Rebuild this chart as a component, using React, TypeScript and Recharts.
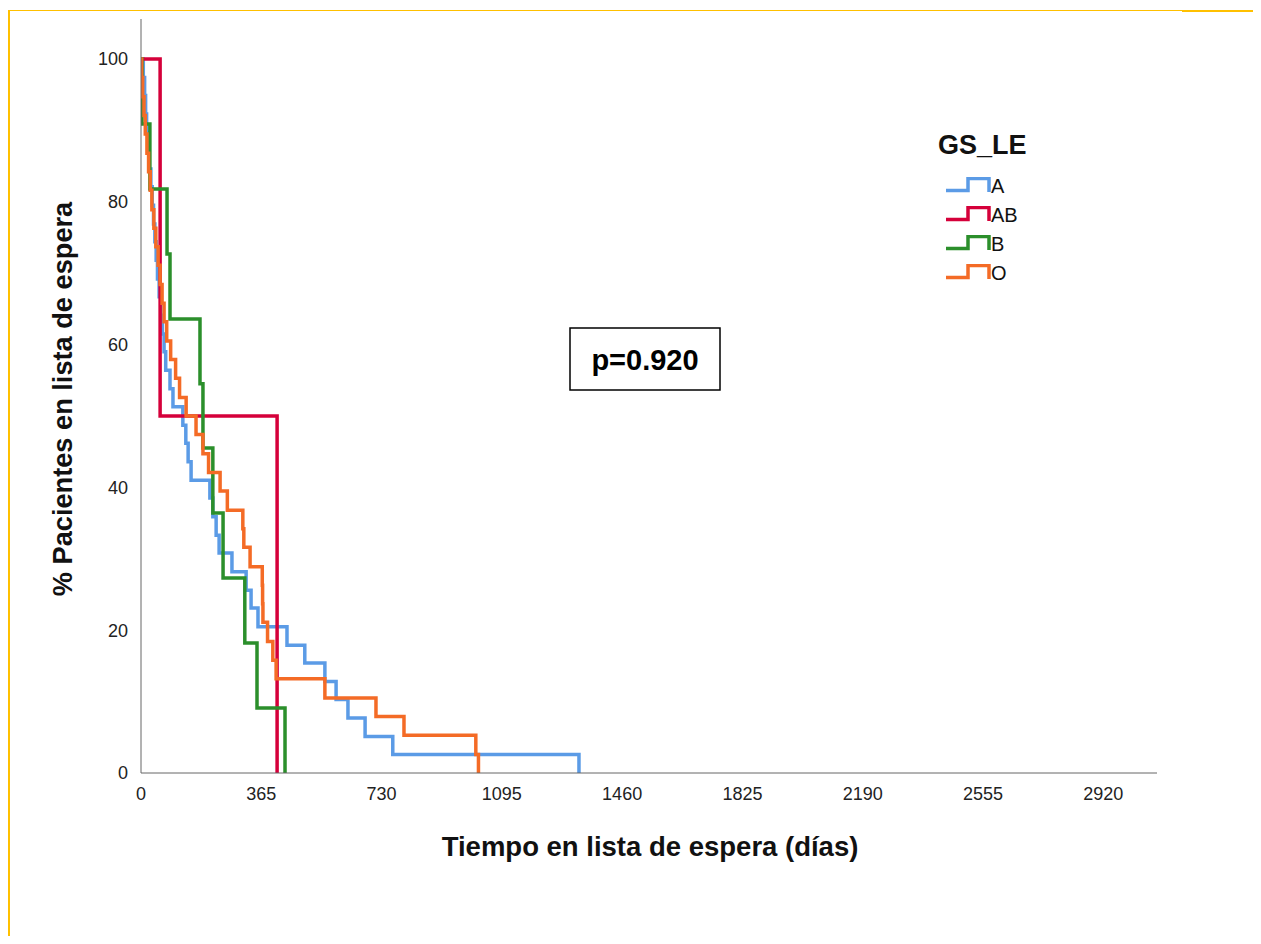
import React from 'react'
import { LineChart, Line, XAxis, YAxis, Legend } from 'recharts'

// Kaplan-Meier steps per blood group (day of event, % still waiting)
const daysA = [0, 7, 11, 14, 17, 21, 25, 30, 34, 38, 42, 46, 50, 55, 60, 65, 70, 75, 88, 97, 127, 136, 143, 152, 209, 218, 228, 237, 276, 319, 334, 355, 443, 497, 558, 592, 628, 680, 764, 1329]
const pctA = [100, 97.4, 94.9, 92.3, 89.7, 87.2, 84.6, 82.1, 79.5, 76.9, 74.4, 71.8, 69.2, 66.7, 64.1, 61.5, 59.0, 56.4, 53.8, 51.3, 48.7, 46.2, 43.6, 41.0, 38.5, 35.9, 33.3, 30.8, 28.2, 25.6, 23.1, 20.5, 17.9, 15.4, 12.8, 10.3, 7.7, 5.1, 2.6, 0]

const daysAB = [0, 58, 413]
const pctAB = [100, 50, 0]

const daysB = [0, 3, 27, 79, 88, 179, 188, 218, 249, 315, 352, 437]
const pctB = [100, 90.9, 81.8, 72.7, 63.6, 54.5, 45.5, 36.4, 27.3, 18.2, 9.1, 0]

const daysO = [0, 2, 5, 9, 13, 18, 23, 28, 33, 39, 45, 52, 58, 64, 70, 78, 90, 105, 117, 137, 167, 188, 205, 240, 262, 309, 312, 331, 368, 369, 370, 384, 400, 410, 558, 713, 798, 1016, 1024]
const pctO = [100, 97.4, 94.7, 92.1, 89.5, 86.8, 84.2, 81.6, 78.9, 76.3, 73.7, 71.1, 68.4, 65.8, 63.2, 60.5, 57.9, 55.3, 52.6, 50.0, 47.4, 44.7, 42.1, 39.5, 36.8, 34.2, 31.6, 28.9, 26.3, 23.7, 21.1, 18.4, 15.8, 13.2, 10.5, 7.9, 5.3, 2.6, 0]

const xTicks = [0, 365, 730, 1095, 1460, 1825, 2190, 2555, 2920]
const yTicks = [0, 20, 40, 60, 80, 100]

const toPoints = (days: number[], pct: number[]) =>
    days.map((day, i) => ({ day, pct: pct[i] }))

const series = [
    { name: 'A', color: '#5b9be6', data: toPoints(daysA, pctA) },
    { name: 'AB', color: '#d5003a', data: toPoints(daysAB, pctAB) },
    { name: 'B', color: '#2b8f2b', data: toPoints(daysB, pctB) },
    { name: 'O', color: '#f46b26', data: toPoints(daysO, pctO) },
]

const FONT = '"Liberation Sans", Arial, sans-serif'
const YELLOW = '#ffc000'

const renderLegend = () => (
    <div style={{ fontFamily: FONT, color: '#111' }}>
        <div style={{ fontSize: 27, fontWeight: 'bold', lineHeight: '30px' }}>GS_LE</div>
        <div style={{ marginTop: 12, marginLeft: 7 }}>
            {series.map(s => (
                <div key={s.name} style={{ display: 'flex', alignItems: 'center', height: 29 }}>
                    <svg width={46} height={20} style={{ display: 'block' }}>
                        <path d='M1,13.5 H23 V1.5 H44 V15' fill='none' stroke={s.color} strokeWidth={3.5} />
                    </svg>
                    <span style={{ fontSize: 20, lineHeight: '29px' }}>{s.name}</span>
                </div>
            ))}
        </div>
    </div>
)

export default function App() {
    return (
        <div style={{ position: 'relative', width: 1245, height: 928 }}>
            {/* yellow frame around the figure */}
            <div style={{ position: 'absolute', left: -1, top: 3, width: 3, height: 932, background: YELLOW }} />
            <div style={{ position: 'absolute', left: -1, top: 2, width: 1175, height: 1, background: YELLOW }} />
            <div style={{ position: 'absolute', left: 1174, top: 2, width: 79, height: 2, background: YELLOW }} />
            <LineChart
                width={1245}
                height={928}
                margin={{ top: 11, right: 96, left: 73, bottom: 133 }}
            >
                <XAxis
                    dataKey='day'
                    type='number'
                    domain={[0, 3083]}
                    ticks={xTicks}
                    allowDataOverflow
                    height={30}
                    tickLine={false}
                    tickMargin={8}
                    stroke='#666'
                    tick={{ fontSize: 18, fill: '#222', fontFamily: FONT }}
                />
                <YAxis
                    dataKey='pct'
                    type='number'
                    domain={[0, 105.6]}
                    ticks={yTicks}
                    allowDataOverflow
                    width={60}
                    tickLine={false}
                    tickMargin={7}
                    stroke='#666'
                    tick={{ fontSize: 18, fill: '#222', fontFamily: FONT }}
                />
                {series.map(s => (
                    <Line
                        key={s.name}
                        data={s.data}
                        dataKey='pct'
                        name={s.name}
                        type='stepAfter'
                        stroke={s.color}
                        strokeWidth={3.5}
                        dot={false}
                        activeDot={false}
                        isAnimationActive={false}
                    />
                ))}
                <Legend
                    layout='vertical'
                    align='center'
                    verticalAlign='middle'
                    content={renderLegend}
                    wrapperStyle={{ left: 930, top: 122, width: 'auto' }}
                />
                <text
                    x={642}
                    y={838}
                    textAnchor='middle'
                    dominantBaseline='central'
                    fontFamily={FONT}
                    fontWeight='bold'
                    fontSize={27.5}
                    fill='#111'
                >
                    Tiempo en lista de espera (días)
                </text>
                <text
                    x={54}
                    y={391}
                    transform='rotate(-90 54 391)'
                    textAnchor='middle'
                    dominantBaseline='central'
                    fontFamily={FONT}
                    fontWeight='bold'
                    fontSize={27.2}
                    fill='#111'
                >
                    % Pacientes en lista de espera
                </text>
                <rect x={562} y={320} width={150} height={62} fill='#fff' stroke='#000' strokeWidth={1.5} />
                <text
                    x={637}
                    y={352}
                    textAnchor='middle'
                    dominantBaseline='central'
                    fontFamily={FONT}
                    fontWeight='bold'
                    fontSize={29}
                    fill='#000'
                >
                    p=0.920
                </text>
            </LineChart>
        </div>
    )
}
